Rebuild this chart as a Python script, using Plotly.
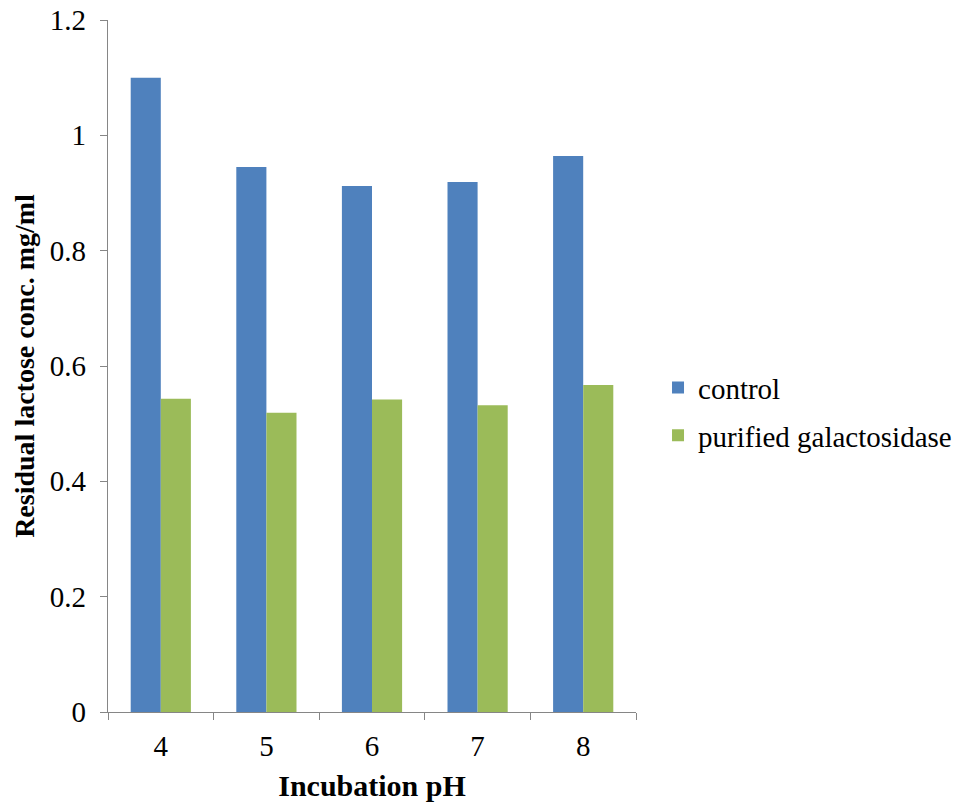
import plotly.graph_objects as go

categories = ["4", "5", "6", "7", "8"]
control = [1.10, 0.945, 0.912, 0.919, 0.964]
purified = [0.543, 0.519, 0.542, 0.532, 0.567]
y_ticks = [0, 0.2, 0.4, 0.6, 0.8, 1.0, 1.2]
y_tick_labels = ["0", "0.2", "0.4", "0.6", "0.8", "1", "1.2"]

font_family = "Liberation Serif"
axis_color = "#868686"
fs = 29

fig = go.Figure()
fig.add_trace(go.Bar(x=categories, y=control, name="control",
                     marker=dict(color="#4F81BD", line=dict(width=0)),
                     legendgroup="a"))
fig.add_trace(go.Bar(x=categories, y=purified, name="purified galactosidase",
                     marker=dict(color="#9BBB59", line=dict(width=0)),
                     legendgroup="b"))

fig.update_layout(
    width=960, height=807,
    margin=dict(l=108, r=324, t=20, b=95, autoexpand=False),
    paper_bgcolor="white", plot_bgcolor="white",
    barmode="group", bargap=0.43, bargroupgap=0,
    font=dict(family=font_family, size=fs, color="black"),
    showlegend=True,
    legend=dict(x=1.0417, y=0.434, xanchor="left", yanchor="middle",
                font=dict(family=font_family, size=fs, color="black"),
                tracegroupgap=7, bgcolor="rgba(0,0,0,0)"),
    xaxis=dict(
        title=dict(text="<b>Incubation pH</b>", font=dict(family=font_family, size=30), standoff=14),
        showline=True, linecolor=axis_color, linewidth=1.2,
        ticks="outside", ticklen=7, tickcolor=axis_color, tickwidth=1.2,
        tickson="boundaries", showgrid=False, automargin=False,
        ticklabelstandoff=8,
        tickfont=dict(family=font_family, size=fs),
    ),
    yaxis=dict(
        title=dict(text="<b>Residual lactose conc. mg/ml</b>", font=dict(family=font_family, size=28), standoff=7),
        range=[0, 1.2], tickvals=y_ticks, ticktext=y_tick_labels,
        showline=True, linecolor=axis_color, linewidth=1.2,
        ticks="outside", ticklen=7, tickcolor=axis_color, tickwidth=1.2,
        showgrid=False, zeroline=False, ticklabelstandoff=8, automargin=False,
        tickfont=dict(family=font_family, size=fs),
    ),
)

fig.write_html("out.html")
